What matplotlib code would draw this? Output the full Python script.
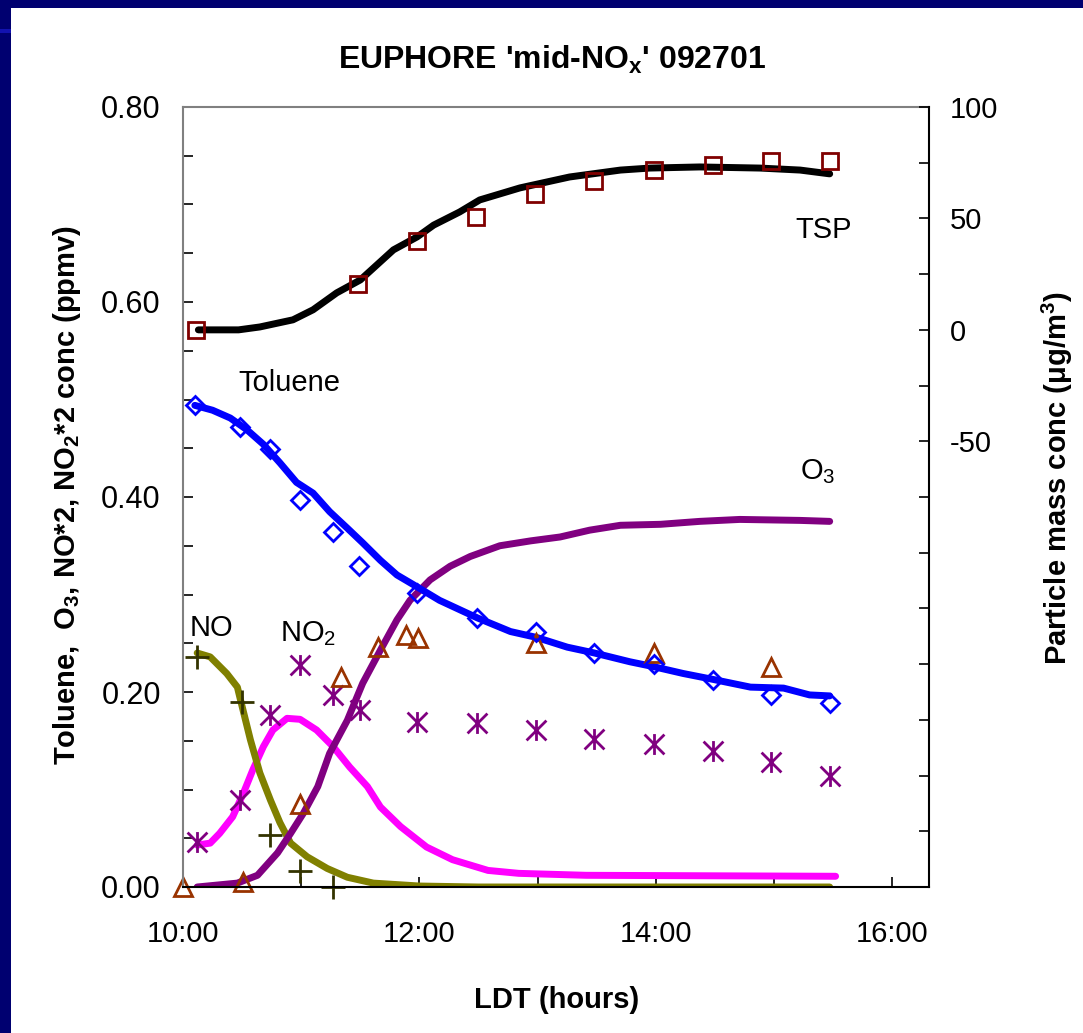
import matplotlib
matplotlib.use("Agg")
import matplotlib.pyplot as plt
from matplotlib.path import Path
from matplotlib.patches import Rectangle
import numpy as np

# ---- data, time in decimal hours (LDT) ----
# TSP particle mass (right axis, ug/m3)
tsp_line_t = [10.13, 10.47, 10.65, 10.93, 11.10, 11.30, 11.50, 11.78, 11.98, 12.12,
              12.34, 12.51, 12.85, 13.27, 13.70, 13.95, 14.37, 14.88, 15.22, 15.47]
tsp_line = [0, 0, 1.3, 4.5, 9, 16.6, 22.4, 35.9, 41.7, 47,
            52.9, 58.3, 63.7, 68.6, 71.7, 72.6, 73.1, 72.6, 71.7, 70]
tsp_obs_t = [10.11, 11.48, 11.98, 12.48, 12.98, 13.48, 13.98, 14.48, 14.97, 15.47]
tsp_obs = [0, 20.6, 40, 50.7, 61, 66.8, 71.7, 74, 75.8, 75.8]

# toluene (ppmv)
tol_line_t = [10.10, 10.25, 10.40, 10.54, 10.68, 10.82, 10.96, 11.10, 11.24, 11.39,
              11.52, 11.67, 11.81, 11.95, 12.17, 12.49, 12.77, 12.99, 13.25, 13.48,
              13.78, 13.98, 14.23, 14.48, 14.80, 15.08, 15.30, 15.47]
tol_line = [0.494, 0.489, 0.481, 0.469, 0.454, 0.435, 0.415, 0.404, 0.385, 0.368,
            0.353, 0.335, 0.320, 0.310, 0.294, 0.276, 0.262, 0.256, 0.246, 0.240,
            0.231, 0.226, 0.219, 0.213, 0.205, 0.204, 0.197, 0.196]
tol_obs_t = [10.10, 10.48, 10.74, 10.99, 11.27, 11.49, 11.98, 12.49, 12.99, 13.48,
             13.98, 14.48, 14.97, 15.47]
tol_obs = [0.494, 0.472, 0.449, 0.397, 0.364, 0.329, 0.302, 0.276, 0.262, 0.240,
           0.229, 0.212, 0.197, 0.189]

# O3 (ppmv)
o3_line_t = [10.12, 10.46, 10.63, 10.80, 10.91, 11.02, 11.14, 11.24, 11.39, 11.52,
             11.67, 11.81, 11.92, 12.09, 12.26, 12.43, 12.68, 12.94, 13.19, 13.44,
             13.70, 14.04, 14.37, 14.71, 15.22, 15.47]
o3_line = [0.0, 0.004, 0.012, 0.035, 0.055, 0.076, 0.103, 0.137, 0.171, 0.209,
           0.243, 0.274, 0.294, 0.315, 0.329, 0.339, 0.350, 0.355, 0.359, 0.366,
           0.371, 0.372, 0.375, 0.377, 0.376, 0.375]
o3_obs_t = [10.0, 10.51, 10.99, 11.34, 11.65, 11.89, 11.99, 12.99, 13.98, 14.97]
o3_obs = [0.0, 0.005, 0.085, 0.215, 0.246, 0.258, 0.255, 0.250, 0.240, 0.226]

# NO*2 (ppmv)
no_line_t = [10.12, 10.23, 10.37, 10.46, 10.48, 10.57, 10.65, 10.74, 10.82, 10.91,
             11.05, 11.22, 11.39, 11.61, 12.0, 12.5, 15.47]
no_line = [0.240, 0.236, 0.219, 0.205, 0.195, 0.151, 0.117, 0.089, 0.066, 0.045,
           0.031, 0.019, 0.010, 0.004, 0.001, 0.0, 0.0]
no_obs_t = [10.12, 10.50, 10.74, 10.99, 11.27]
no_obs = [0.236, 0.190, 0.053, 0.016, 0.0]

# NO2*2 (ppmv)
no2_line_t = [10.12, 10.23, 10.31, 10.42, 10.51, 10.59, 10.68, 10.76, 10.88, 10.99,
              11.13, 11.27, 11.41, 11.56, 11.67, 11.84, 12.06, 12.28, 12.58, 12.84,
              13.41, 15.52]
no2_line = [0.043, 0.045, 0.055, 0.072, 0.096, 0.120, 0.144, 0.161, 0.173, 0.172,
            0.161, 0.144, 0.123, 0.103, 0.082, 0.062, 0.041, 0.028, 0.017, 0.014,
            0.012, 0.011]
no2_obs_t = [10.12, 10.48, 10.74, 10.99, 11.27, 11.50, 11.98, 12.49, 12.99, 13.48,
             13.98, 14.48, 14.97, 15.47]
no2_obs = [0.046, 0.089, 0.176, 0.228, 0.197, 0.182, 0.169, 0.168, 0.161, 0.152,
           0.147, 0.140, 0.128, 0.114]

x_ticks = [10, 11, 12, 13, 14, 15, 16]
x_labels = ["10:00", "", "12:00", "", "14:00", "", "16:00"]

plt.rcParams['font.family'] = ['Liberation Sans', 'DejaVu Sans']
plt.rcParams['mathtext.fontset'] = 'custom'
plt.rcParams['mathtext.rm'] = 'Liberation Sans'
plt.rcParams['mathtext.bf'] = 'Liberation Sans:bold'
plt.rcParams['mathtext.it'] = 'Liberation Sans:italic'

W, H = 1083, 1033
fig = plt.figure(figsize=(W / 100, H / 100), dpi=100)
fig.patch.set_facecolor('white')

# dark slide frame on the left and top
navy = '#000070'
fig.add_artist(Rectangle((0, 0), 11 / W, 1, transform=fig.transFigure, color=navy, lw=0))
fig.add_artist(Rectangle((0, 1 - 8 / H), 1, 8 / H, transform=fig.transFigure, color=navy, lw=0))
fig.add_artist(Rectangle((0, 1 - 33 / H), 11 / W, 4 / H, transform=fig.transFigure,
                         color='#1212b0', lw=0))

ax = fig.add_axes([183 / W, 1 - 887 / H, (929 - 183) / W, (887 - 107) / H])
ax2 = ax.twinx()

lw = 5
ax.plot(no2_line_t, no2_line, color='#FF00FF', lw=lw, solid_capstyle='round')
ax.plot(no_line_t, no_line, color='#808000', lw=lw, solid_capstyle='round')
ax.plot(o3_line_t, o3_line, color='#800080', lw=lw, solid_capstyle='round')
ax.plot(tol_line_t, tol_line, color='#0000FF', lw=lw, solid_capstyle='round')

star = Path([(-1, -1), (1, 1), (-1, 1), (1, -1), (0, -1.05), (0, 1.05)],
            [Path.MOVETO, Path.LINETO] * 3)
ax.plot(no2_obs_t, no2_obs, ls='none', marker=star, ms=15, mew=2,
        color='#800080', clip_on=False)
ax.plot(no_obs_t, no_obs, ls='none', marker='+', ms=17, mew=2,
        color='#333300', clip_on=False)
ax.plot(o3_obs_t, o3_obs, ls='none', marker='^', ms=13, mew=2,
        mfc='none', mec='#993300', clip_on=False)
ax.plot(tol_obs_t, tol_obs, ls='none', marker='D', ms=9.5, mew=2,
        mfc='none', mec='#0000FF', clip_on=False)

ax2.plot(tsp_line_t, tsp_line, color='black', lw=lw, solid_capstyle='round')
ax2.plot(tsp_obs_t, tsp_obs, ls='none', marker='s', ms=12, mew=2,
         mfc='none', mec='#800000', clip_on=False)

# labels inside the plot
txt = dict(fontsize=21, va='center', ha='left')
ax.text(15.18, 0.674, 'TSP', **txt)
ax.text(10.465, 0.517, 'Toluene', **txt)
ax.text(15.22, 0.426, r'O$_\mathregular{3}$', **txt)
ax.text(10.06, 0.266, 'NO', **txt)
ax.text(10.82, 0.26, r'NO$_\mathregular{2}$', **txt)

# axes
ax.set_xlim(10, 16.31)
ax.set_ylim(0, 0.8)
ax.set_xticks(x_ticks)
ax.set_xticklabels(x_labels)
yt = np.arange(0, 0.801, 0.05)
ax.set_yticks(yt)
ax.set_yticklabels(['%.2f' % v if round(v * 100) % 20 == 0 else '' for v in yt])
ax.tick_params(axis='x', direction='in', length=7, width=1.2, labelsize=21, pad=24)
ax.tick_params(axis='y', direction='in', length=7, width=1.2, labelsize=22, pad=16)

ax2.set_ylim(-250, 100)
rt = np.arange(-250, 101, 25)
ax2.set_yticks(rt)
ax2.set_yticklabels(['%d' % v if (v >= -50 and v % 50 == 0) else '' for v in rt])
ax2.tick_params(axis='y', direction='in', length=7, width=1.2, labelsize=21, pad=15)

for s in ['left', 'top']:
    ax.spines[s].set_color('#808080')
    ax.spines[s].set_linewidth(1.5)
ax.spines['bottom'].set_color('black')
ax.spines['bottom'].set_linewidth(1.5)
ax.spines['right'].set_visible(False)
for s in ['left', 'top', 'bottom']:
    ax2.spines[s].set_visible(False)
ax2.spines['right'].set_color('black')
ax2.spines['right'].set_linewidth(1.5)

fig.text(552 / W, 1 - 60 / H, r"EUPHORE 'mid-NO$_\mathbf{x}$' 092701",
         ha='center', va='center', fontsize=23, fontweight='bold')
fig.text(557 / W, 1 - 1000 / H, 'LDT (hours)', ha='center', va='center',
         fontsize=21, fontweight='bold')
fig.text(67 / W, 1 - 495 / H,
         r"Toluene,  O$_\mathbf{3}$, NO*2, NO$_\mathbf{2}$*2 conc (ppmv)",
         ha='center', va='center', rotation=90, fontsize=21, fontweight='bold')
fig.text(1057 / W, 1 - 478 / H, r"Particle mass conc (μg/m$^\mathbf{3}$)",
         ha='center', va='center', rotation=90, fontsize=21, fontweight='bold')

fig.savefig('out.png', dpi=100)
